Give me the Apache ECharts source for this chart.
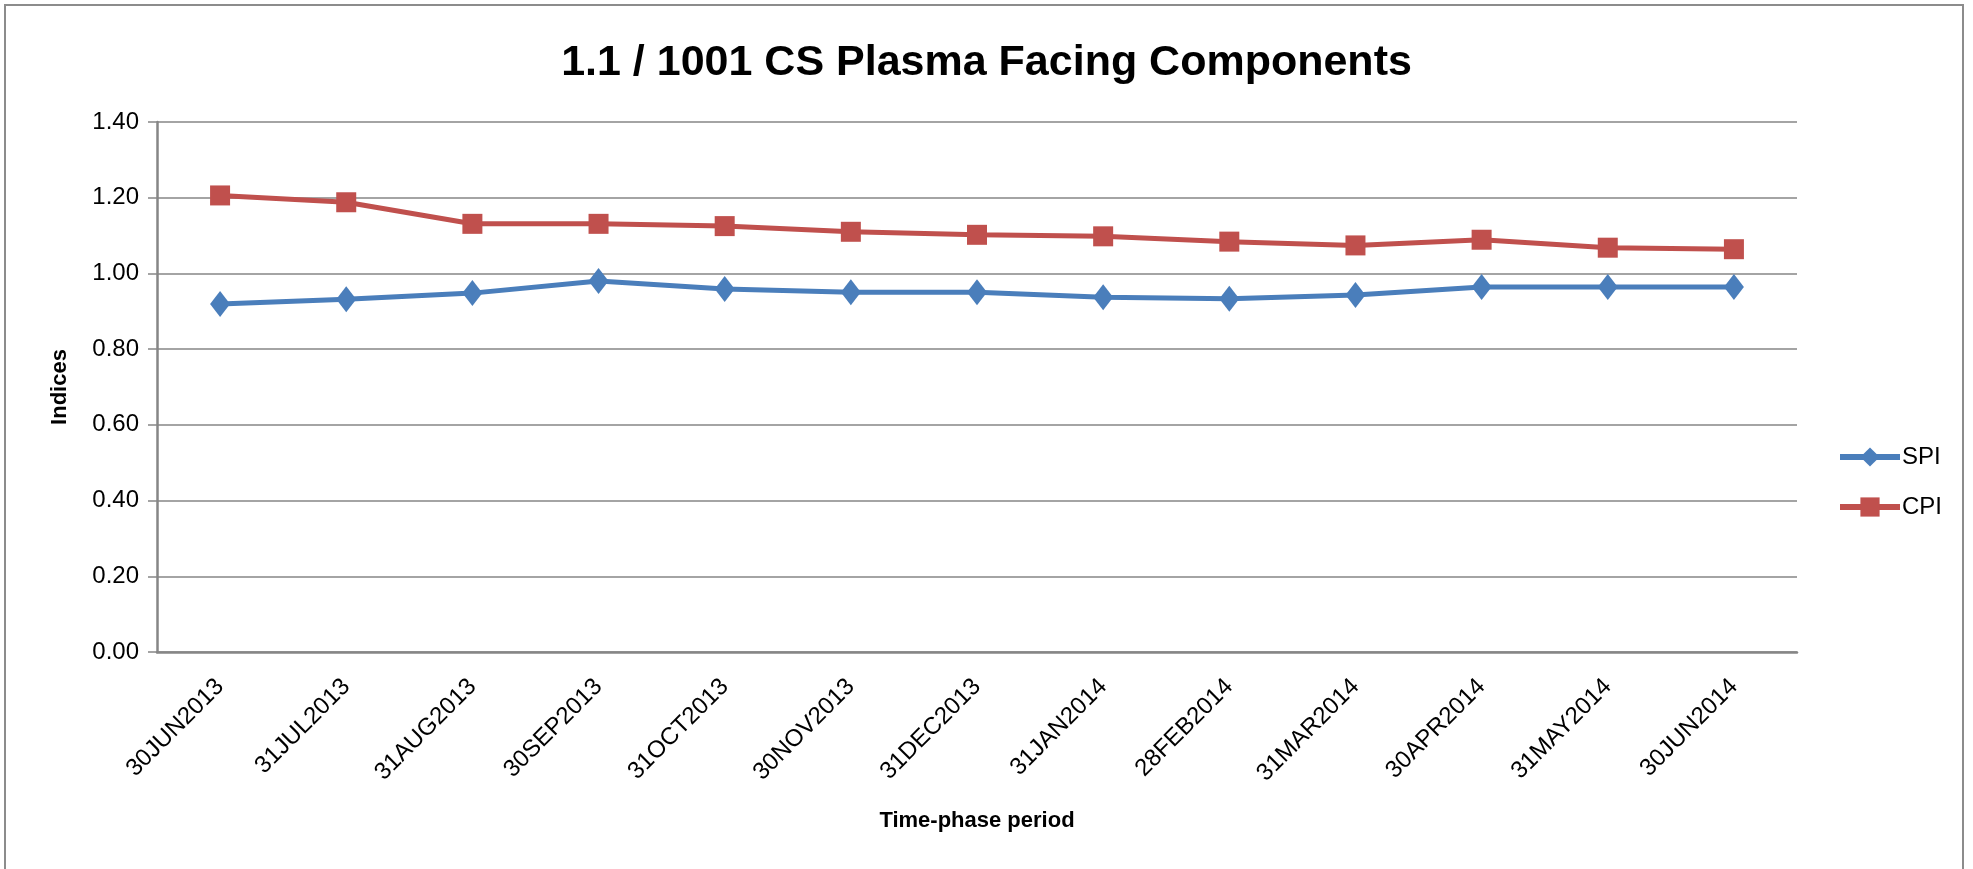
<!DOCTYPE html>
<html>
<head>
<meta charset="utf-8">
<script src="https://cdn.jsdelivr.net/npm/echarts@6/dist/echarts.min.js"></script>
<style>
  html, body { margin: 0; padding: 0; background: #fff; }
  #main { width: 1973px; height: 869px; }
</style>
</head>
<body>
<div id="main"></div>
<script>
const periods = ["30JUN2013", "31JUL2013", "31AUG2013", "30SEP2013", "31OCT2013", "30NOV2013", "31DEC2013",
  "31JAN2014", "28FEB2014", "31MAR2014", "30APR2014", "31MAY2014", "30JUN2014"]
const spi = [0.919, 0.932, 0.948, 0.980, 0.959, 0.950, 0.950, 0.937, 0.933, 0.943, 0.964, 0.964, 0.964]
const cpi = [1.206, 1.188, 1.131, 1.131, 1.125, 1.110, 1.102, 1.098, 1.084, 1.074, 1.089, 1.068, 1.064]
const yTicks = [0, 0.2, 0.4, 0.6, 0.8, 1.0, 1.2, 1.4]

const font = "'Liberation Sans Narrow', 'Liberation Sans', sans-serif"
const gridGray = "#868686"

var myChart = echarts.init(document.getElementById("main"))
var option = {
  animation: false,
  textStyle: { fontFamily: font },
  title: {
    text: "1.1 / 1001 CS Plasma Facing Components",
    left: "center",
    top: 37,
    textStyle: { fontFamily: font, fontWeight: "bold", fontSize: 43, color: "#000" }
  },
  graphic: [
    {
      type: "rect",
      shape: { x: 5, y: 5, width: 1958, height: 900 },
      style: { fill: "none", stroke: "#8c8c8c", lineWidth: 2 },
      silent: true
    }
  ],
  legend: {
    orient: "vertical",
    left: 1832,
    top: 440,
    itemGap: 26,
    itemWidth: 60,
    itemHeight: 24,
    lineStyle: { width: 6 },
    textStyle: { fontFamily: font, fontSize: 24, color: "#000", padding: [0, 0, 0, -3] },
    data: ["SPI", "CPI"]
  },
  grid: { left: 157, right: 176, top: 122, bottom: 217 },
  xAxis: {
    type: "category",
    data: periods,
    boundaryGap: true,
    name: "Time-phase period",
    nameLocation: "middle",
    nameGap: 158,
    nameTextStyle: { fontFamily: font, fontWeight: "bold", fontSize: 22, color: "#000" },
    axisLine: { lineStyle: { color: gridGray, width: 2.5 } },
    axisTick: { inside: true, length: 12, lineStyle: { color: gridGray, width: 1.5 } },
    axisLabel: { rotate: 45, margin: 31, fontSize: 24, color: "#000", fontFamily: font }
  },
  yAxis: {
    type: "value",
    min: 0,
    max: 1.4,
    interval: 0.2,
    name: "Indices",
    nameLocation: "middle",
    nameGap: 86,
    nameTextStyle: { fontFamily: font, fontWeight: "bold", fontSize: 22, color: "#000" },
    axisLine: { show: true, lineStyle: { color: gridGray, width: 2.5 } },
    axisTick: { show: true, length: 9, lineStyle: { color: gridGray, width: 1.5 } },
    splitLine: { lineStyle: { color: gridGray, width: 1.5 } },
    axisLabel: {
      fontSize: 24, color: "#000", margin: 18, fontFamily: font,
      formatter: v => yTicks.includes(Math.round(v * 10) / 10) ? v.toFixed(2) : ""
    }
  },
  series: [
    {
      name: "SPI",
      type: "line",
      data: spi,
      symbol: "diamond",
      symbolSize: [20, 26],
      lineStyle: { color: "#4A7EBB", width: 5 },
      itemStyle: { color: "#4A7EBB" }
    },
    {
      name: "CPI",
      type: "line",
      data: cpi,
      symbol: "rect",
      symbolSize: 20,
      lineStyle: { color: "#C0504D", width: 5 },
      itemStyle: { color: "#C0504D" }
    }
  ]
}

option && myChart.setOption(option)
</script>
</body>
</html>
